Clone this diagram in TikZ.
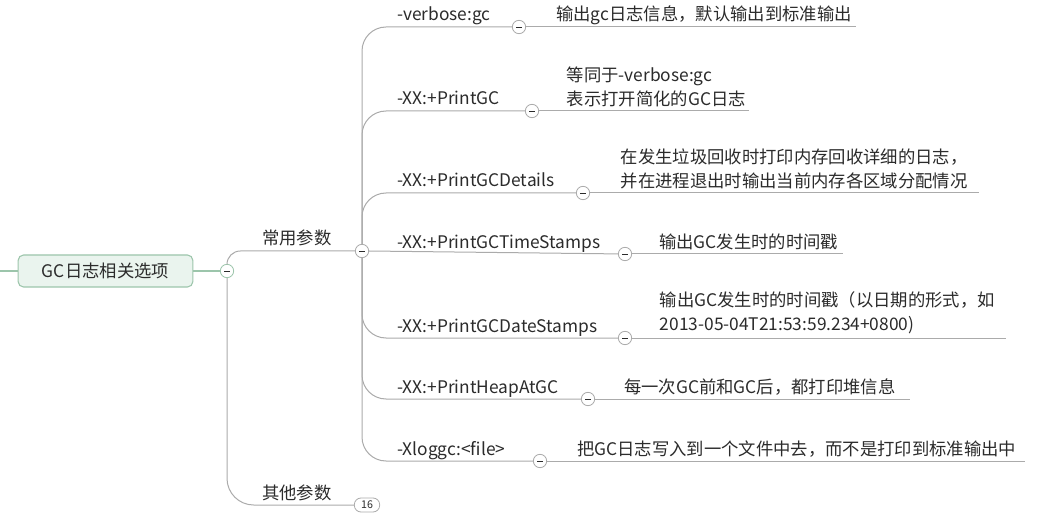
\documentclass[tikz,border=0pt]{standalone}
\usepackage{fontspec}
\setmainfont{Noto Sans CJK SC}
\usetikzlibrary{positioning}
\definecolor{linegray}{HTML}{ABABAB}
\definecolor{rootgreen}{HTML}{9CC5AB}
\definecolor{rootfill}{HTML}{EAF4EE}
\definecolor{textdark}{HTML}{2B2B2B}

\begin{document}
\begin{tikzpicture}[
    x=0.75pt, y=-0.75pt,
    font=\fontsize{13}{18}\selectfont, text=textdark,
    rootbox/.style={rectangle, draw=rootgreen, fill=rootfill, rounded corners=4pt, minimum width=131pt, minimum height=24pt, line width=0.8pt},
    fold/.style={circle, draw=linegray, fill=white, inner sep=0pt, minimum size=10pt, line width=0.6pt},
    rootfold/.style={fold, draw=rootgreen},
    badge/.style={rectangle, draw=linegray, fill=white, rounded corners=5pt, minimum width=19pt, minimum height=10.5pt, inner sep=0pt, font=\fontsize{8}{9}\selectfont, line width=0.6pt},
    optlabel/.style={anchor=base west, inner sep=0pt},
    desc/.style={anchor=base west, inner xsep=3pt, inner ysep=0pt},
    desctwo/.style={anchor=south west, inner xsep=5pt, inner ysep=0pt, align=left},
    branch/.style={draw=linegray, line width=0.75pt, rounded corners=18pt},
    rootline/.style={draw=rootgreen, line width=0.8pt}
]
\useasboundingbox[fill=white] (0,0) rectangle (1049,520);

\newcommand{\minus}{\rule{4pt}{0.5pt}}

% root
\coordinate (stub) at (0,271);
\node[rootbox] (gcroot) at (105.5,271) {GC日志相关选项};
\node[rootfold] (croot) at (227,271) {\minus};

% main branches
\node[optlabel] (common) at (262,245) {常用参数};
\node[fold] (ccommon) at (362,251) {\minus};
\node[optlabel] (other) at (262,499) {其他参数};
\node[badge] (cother) at (367,505) {16};

% options
\node[optlabel] (opt1) at (397,21) {-verbose:gc};
\node[fold] (c1) at (519,27) {\minus};
\node[desc] (d1) at (552,21) {输出gc日志信息，默认输出到标准输出};

\node[optlabel] (opt2) at (397,105) {-XX:+PrintGC};
\node[fold] (c2) at (532,111) {\minus};
\node[desctwo, inner xsep=2pt] (d2) at (564,107) {等同于-verbose:gc\\表示打开简化的GC日志};

\node[optlabel] (opt3) at (397,187) {-XX:+PrintGCDetails};
\node[fold] (c3) at (583,193) {\minus};
\node[desctwo, inner xsep=8pt] (d3) at (610,189) {在发生垃圾回收时打印内存回收详细的日志，\\并在进程退出时输出当前内存各区域分配情况};

\node[optlabel] (opt4) at (397,248) {-XX:+PrintGCTimeStamps};
\node[fold] (c4) at (625,254) {\minus};
\node[desc] (d4) at (655,248) {输出GC发生时的时间戳};

\node[optlabel] (opt5) at (397,332) {-XX:+PrintGCDateStamps};
\node[fold] (c5) at (625,338) {\minus};
\node[desctwo, inner xsep=8pt] (d5) at (649,334) {输出GC发生时的时间戳（以日期的形式，如\\2013-05-04T21:53:59.234+0800)};

\node[optlabel] (opt6) at (397,393) {-XX:+PrintHeapAtGC};
\node[fold] (c6) at (588,399) {\minus};
\node[desc, text width=211pt, align=left] (d6) at (620,393) {每一次GC前和GC后，都打印堆信息};

\node[optlabel] (opt7) at (397,455) {-Xloggc:<file>};
\node[fold] (c7) at (540,461) {\minus};
\node[desc, inner xsep=6pt] (d7) at (569,455) {把GC日志写入到一个文件中去，而不是打印到标准输出中};

% connectors
\draw[rootline] (stub) -- (gcroot.west);
\draw[rootline] (gcroot.east) -- (croot);
\draw[branch, rounded corners=10pt] (croot) |- (ccommon);
\draw[branch, rounded corners=20pt] (croot) |- (cother);
\draw[branch] (ccommon) |- (c1);
\draw[branch] (ccommon) |- (c2);
\draw[branch] (ccommon) |- (c3);
\draw[branch] (ccommon.east) -- (c4);
\draw[branch] (ccommon) |- (c5);
\draw[branch] (ccommon) |- (c6);
\draw[branch] (ccommon) |- (c7);
\draw[branch] (c1) -- (c1 -| d1.east);
\draw[branch] (c2) -- (c2 -| d2.east);
\draw[branch] (c3) -- (c3 -| d3.east);
\draw[branch] (c4) -- (c4 -| d4.east);
\draw[branch] (c5) -- (c5 -| d5.east);
\draw[branch] (c6) -- (c6 -| d6.east);
\draw[branch] (c7) -- (c7 -| d7.east);
\end{tikzpicture}
\end{document}
